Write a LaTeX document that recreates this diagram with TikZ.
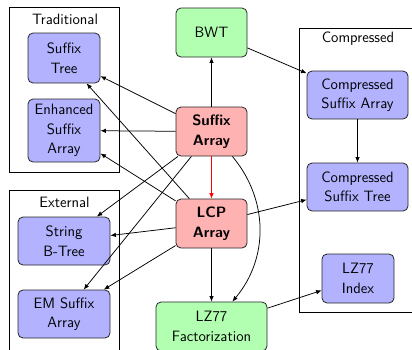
\documentclass[tikz,border=0pt]{standalone}
\usetikzlibrary{arrows.meta}
\begin{document}
\begin{tikzpicture}[x=1pt,y=-1pt,
  every node/.style={font=\sffamily\fontsize{15}{19.5}\selectfont},
  base/.style={draw=black!85, line width=0.8pt, rounded corners=5pt, align=center, inner sep=0pt},
  bluebox/.style={base, fill=blue!30},
  pinkbox/.style={base, fill=red!30, font=\sffamily\bfseries\fontsize{15}{19.5}\selectfont},
  greenbox/.style={base, fill=green!30},
  group/.style={draw=black, line width=0.8pt},
  arr/.style={-{Latex[length=5.5pt,width=4.5pt]}, line width=0.75pt, black}
]
\useasboundingbox (0,0) rectangle (412,349);
\clip (0,0) rectangle (412,349);
% groups
\draw[group] (9,7) rectangle (119,172);
\node (tradlabel) at (65,19) {Traditional};
\draw[group] (9,190) rectangle (119,360);
\node (extlabel) at (64.5,202) {External};
\draw[group] (299,28) rectangle (430,312);
\node (complabel) at (358,39) {Compressed};
% nodes
\node[bluebox, minimum width=72pt, minimum height=50pt] (st) at (64,58) {Suffix\\Tree};
\node[bluebox, minimum width=72pt, minimum height=63pt] (esa) at (64,130.5) {Enhanced\\Suffix\\Array};
\node[bluebox, minimum width=92pt, minimum height=48pt] (sbt) at (64,241) {String\\B-Tree};
\node[bluebox, minimum width=92pt, minimum height=48pt] (emsa) at (64,314) {EM Suffix\\Array};
\node[greenbox, minimum width=71pt, minimum height=49pt] (bwt) at (211.5,32.5) {BWT};
\node[pinkbox, minimum width=71pt, minimum height=49pt] (sa) at (211.5,131.5) {Suffix\\Array};
\node[pinkbox, minimum width=71pt, minimum height=49pt] (lcp) at (211.5,223.5) {LCP\\Array};
\node[greenbox, minimum width=111pt, minimum height=49pt] (lz) at (211.5,326.5) {LZ77\\Factorization};
\node[bluebox, minimum width=101pt, minimum height=48pt] (csa) at (357.5,95) {Compressed\\Suffix Array};
\node[bluebox, minimum width=101pt, minimum height=48pt] (cst) at (357.5,187) {Compressed\\Suffix Tree};
\node[bluebox, minimum width=72pt, minimum height=49pt] (lzi) at (358,278.5) {LZ77\\Index};
% edges
\draw[arr] (sa) -- (bwt);
\draw[arr] (bwt) -- (csa);
\draw[arr] (csa) -- (cst);
\draw[arr, red] (sa) -- (lcp);
\draw[arr] (sa) -- (st);
\draw[arr] (sa) -- (esa);
\draw[arr] (sa) -- (sbt);
\draw[arr] (sa) -- (emsa);
\draw[arr] (lcp) -- (st);
\draw[arr] (lcp) -- (esa);
\draw[arr] (lcp) -- (sbt);
\draw[arr] (lcp) -- (emsa);
\draw[arr] (lcp) -- (lz);
\draw[arr] (lcp) -- (cst);
\draw[arr] (sa) to[bend left=40] (lz);
\draw[arr] (lz) -- (lzi);
\end{tikzpicture}
\end{document}
